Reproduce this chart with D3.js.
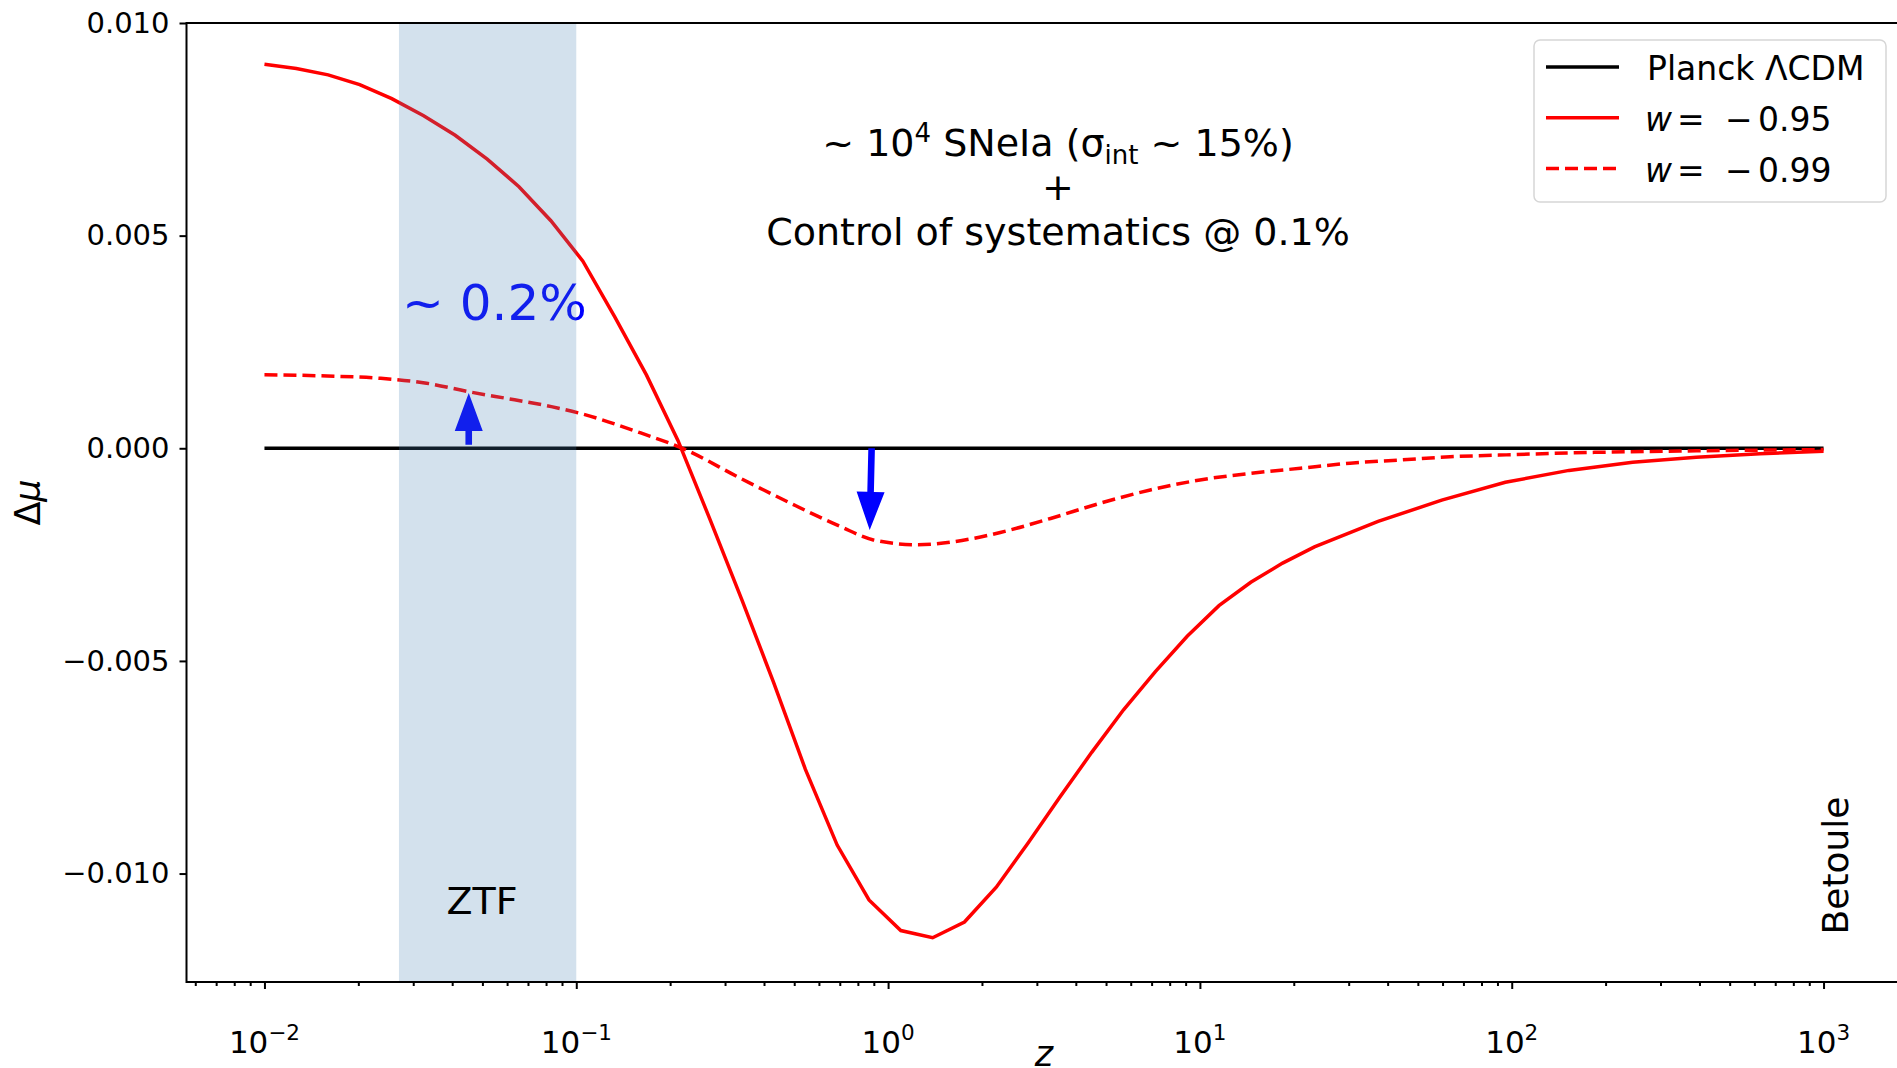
<!DOCTYPE html>
<html lang="en">
<head>
<meta charset="UTF-8">
<title>Delta mu vs z</title>
<script src="https://d3js.org/d3.v7.min.js"></script>
<style>
    body { margin: 0; background: #fff; }
    svg { display: block; font-family: 'DejaVu Sans', sans-serif; }
    .tick line { stroke: #000; stroke-width: 2px; }
    .tick text { fill: #000; }
</style>
</head>
<body>
<svg id="chart" width="1897" height="1068"></svg>
<script>
// redshift grid and distance modulus residuals
var zSolid = [0.01, 0.01265, 0.016, 0.0202, 0.0256, 0.0324, 0.0409, 0.0518, 0.0655, 0.0829,
    0.105, 0.1326, 0.168, 0.212, 0.268, 0.340, 0.429, 0.543, 0.6866, 0.8685,
    1.0985, 1.3895, 1.7575, 2.223, 2.812, 3.557, 4.498, 5.690, 7.197, 9.103,
    11.51, 14.56, 18.42, 23.30, 37.28, 59.64, 95.41, 152.6, 244.2, 390.7, 625.1, 1000];
var dmuSolid = [0.00903, 0.00893, 0.00878, 0.00855, 0.00822, 0.00782, 0.00736, 0.00680, 0.00615, 0.00535,
    0.00440, 0.00310, 0.00172, 0.00018, -0.00166, -0.00357, -0.00550, -0.00755, -0.00933, -0.01062,
    -0.01134, -0.01151, -0.01114, -0.01032, -0.00928, -0.00820, -0.00715, -0.00615, -0.00525, -0.00442,
    -0.00370, -0.00315, -0.00270, -0.00232, -0.00172, -0.00122, -0.00080, -0.00052, -0.00033, -0.00021, -0.00013, -0.00007];

var zDashed = [0.01, 0.0159, 0.0236, 0.0331, 0.0452, 0.0634, 0.0832, 0.103, 0.161, 0.219,
    0.336, 0.486, 0.703, 0.897, 1.24, 1.875, 2.29, 3.32, 4.80, 6.93,
    10.0, 14.5, 21.0, 30.3, 43.9, 63.4, 91.6, 153, 391, 1000];
var dmuDashed = [0.00173, 0.00170, 0.001645, 0.00153, 0.00133, 0.00114, 0.00098, 0.00082, 0.00036, 0.0,
    -0.000705, -0.00129, -0.00184, -0.002155, -0.00227, -0.00212, -0.00198, -0.00165, -0.00129, -0.00098,
    -0.000745, -0.00059, -0.00047, -0.00035, -0.000275, -0.00020, -0.00016, -0.00011, -0.00006, -0.00003];

var zLCDM = [0.01, 1000];
var dmuLCDM = [0, 0];

var ztfBand = [0.027, 0.1];
var xTicks = [0.01, 0.1, 1, 10, 100, 1000];
var xExponents = ["−2", "−1", "0", "1", "2", "3"];
var yTicks = [-0.010, -0.005, 0.0, 0.005, 0.010];

// blue arrows: tail (z0, d0) -> tip (z1, d1)
var arrowZ0 = [0.0452, 0.8855];
var arrowD0 = [0.00008, 0.0];
var arrowZ1 = [0.0452, 0.873];
var arrowD1 = [0.00130, -0.00192];

var legendNames = ["Planck ΛCDM", "w", "w"];
var legendValues = ["", "0.95", "0.99"];

var svg = d3.select("#chart"),
    margin = {top: 23, right: -4.5, bottom: 86, left: 186.5},
    width = +svg.attr("width") - margin.left - margin.right,
    height = +svg.attr("height") - margin.top - margin.bottom;

var x = d3.scaleLog().domain([Math.pow(10, -2.25), Math.pow(10, 3.25)]).range([0, width]);
var y = d3.scaleLinear().domain([-0.01255, 0.010]).range([height, 0]);

var g = svg.append("g").attr("transform", "translate(" + margin.left + "," + margin.top + ")");

// axes
var yAxis = g.append("g")
    .call(d3.axisLeft(y).tickValues(yTicks).tickSize(7).tickPadding(10).tickFormat(d3.format(".3f")));
yAxis.attr("font-family", "DejaVu Sans").attr("font-size", 29);
yAxis.select(".domain").remove();

var minorTicks = x.ticks().filter(function(d) { return Math.abs(Math.log10(d) - Math.round(Math.log10(d))) > 1e-6; });
var xMinor = g.append("g").attr("transform", "translate(0," + height + ")")
    .call(d3.axisBottom(x).tickValues(minorTicks).tickSize(4).tickFormat(""));
xMinor.select(".domain").remove();
var xAxis = g.append("g").attr("transform", "translate(0," + height + ")")
    .call(d3.axisBottom(x).tickValues(xTicks).tickSize(7).tickFormat(""));
xAxis.select(".domain").remove();

var xl = g.append("g").attr("transform", "translate(0," + height + ")")
    .selectAll("text").data(xTicks).enter().append("text")
    .attr("x", function(d) { return x(d); })
    .attr("y", 71)
    .attr("text-anchor", "middle")
    .style("font-size", "31px");
xl.append("tspan").text("10");
xl.append("tspan").attr("dy", -13).style("font-size", "21.5px").text(function(d, i) { return xExponents[i]; });

// curves
var line = d3.line()
    .x(function(d) { return x(d[0]); })
    .y(function(d) { return y(d[1]); });

g.append("path").datum(d3.zip(zLCDM, dmuLCDM))
    .attr("fill", "none").attr("stroke", "#000").attr("stroke-width", 3.6).attr("d", line);
g.append("path").datum(d3.zip(zDashed, dmuDashed))
    .attr("fill", "none").attr("stroke", "red").attr("stroke-width", 3.5)
    .attr("stroke-dasharray", "13,6")
    .attr("d", line.curve(d3.curveMonotoneX));
g.append("path").datum(d3.zip(zSolid, dmuSolid))
    .attr("fill", "none").attr("stroke", "red").attr("stroke-width", 3.5)
    .attr("d", line.curve(d3.curveLinear));

// arrows
arrowZ0.forEach(function(z0, i) {
    var x0 = x(z0), y0 = y(arrowD0[i]), x1 = x(arrowZ1[i]), y1 = y(arrowD1[i]);
    var len = Math.hypot(x1 - x0, y1 - y0), ux = (x1 - x0) / len, uy = (y1 - y0) / len;
    var px = -uy, py = ux, hl = 38, hw = 14, sw = 3.3;
    var bx = x1 - ux * hl, by = y1 - uy * hl;
    var pts = [
        [x0 + px * sw, y0 + py * sw], [bx + px * sw, by + py * sw], [bx + px * hw, by + py * hw],
        [x1, y1],
        [bx - px * hw, by - py * hw], [bx - px * sw, by - py * sw], [x0 - px * sw, y0 - py * sw]
    ];
    g.append("path").attr("d", "M" + pts.join("L") + "Z").attr("fill", "#0000ff");
});

g.append("text")
    .attr("x", 402 - margin.left).attr("y", 320 - margin.top)
    .attr("fill", "#0000ff").style("font-size", "50px")
    .text("~ 0.2%");

// ZTF band drawn over everything in it
g.append("rect")
    .attr("x", x(ztfBand[0])).attr("y", 0)
    .attr("width", x(ztfBand[1]) - x(ztfBand[0])).attr("height", height)
    .attr("fill", "steelblue").attr("fill-opacity", 0.24);

g.append("text")
    .attr("x", 482 - margin.left).attr("y", 914 - margin.top)
    .attr("text-anchor", "middle").style("font-size", "38px")
    .text("ZTF");

g.append("text")
    .attr("transform", "translate(" + (1848 - margin.left) + "," + (865.5 - margin.top) + ") rotate(-90)")
    .attr("text-anchor", "middle").style("font-size", "36px")
    .text("Betoule");

// annotation
var ann = g.append("text").attr("text-anchor", "middle").style("font-size", "38px")
    .attr("transform", "translate(" + (1058 - margin.left) + ",0)");
var l1 = ann.append("tspan").attr("x", 0).attr("y", 156 - margin.top);
l1.append("tspan").text("~ 10");
l1.append("tspan").attr("dy", -14).style("font-size", "26px").text("4");
l1.append("tspan").attr("dy", 14).text(" SNeIa (σ");
l1.append("tspan").attr("dy", 8).style("font-size", "26px").text("int");
l1.append("tspan").attr("dy", -8).text(" ~ 15%)");
ann.append("tspan").attr("x", 0).attr("y", 200 - margin.top).text("+");
ann.append("tspan").attr("x", 0).attr("y", 245 - margin.top).text("Control of systematics @ 0.1%");

// spines
g.append("rect").attr("x", 0).attr("y", 0).attr("width", width).attr("height", height)
    .attr("fill", "none").attr("stroke", "#000").attr("stroke-width", 2);

// axis labels
svg.append("text")
    .attr("transform", "translate(40," + (margin.top + height / 2) + ") rotate(-90)")
    .attr("text-anchor", "middle").style("font-size", "35px")
    .html("Δ<tspan font-style='italic'>μ</tspan>");
svg.append("text")
    .attr("x", 1044).attr("y", 1066)
    .attr("text-anchor", "middle").style("font-size", "35px").style("font-style", "italic")
    .text("z");

// legend
var leg = svg.append("g");
leg.append("rect").attr("x", 1534).attr("y", 40).attr("width", 352).attr("height", 162).attr("rx", 6)
    .attr("fill", "#fff").attr("fill-opacity", 0.8).attr("stroke", "#d6d6d6").attr("stroke-width", 1.5);
var legColors = ["#000", "red", "red"];
var legDash = [null, null, "13,6"];
legendNames.forEach(function(name, i) {
    var cy = 67 + i * 50.7, base = 80 + i * 50.85;
    leg.append("line").attr("x1", 1546).attr("x2", 1619).attr("y1", cy).attr("y2", cy)
        .attr("stroke", legColors[i]).attr("stroke-width", 3.5).attr("stroke-dasharray", legDash[i]);
    var t = leg.append("text").attr("x", 1645).attr("y", base).style("font-size", "33px");
    if (legendValues[i] === "") {
        t.attr("x", 1647).text(name);
    } else {
        t.append("tspan").style("font-style", "italic").text(name);
        t.append("tspan").attr("x", 1677).text("=");
        t.append("tspan").attr("x", 1725).text("−");
        t.append("tspan").attr("x", 1758).text(legendValues[i]);
    }
});
</script>
</body>
</html>
